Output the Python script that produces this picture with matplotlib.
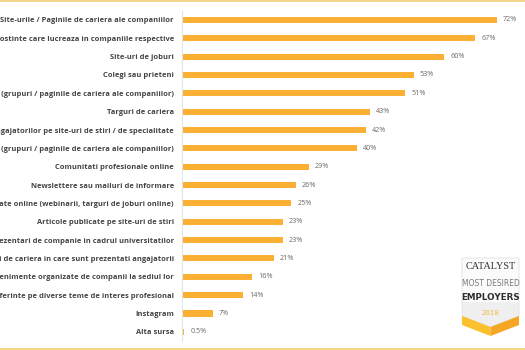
import matplotlib
matplotlib.use("Agg")
import matplotlib.pyplot as plt
from matplotlib.patches import Polygon, Rectangle

categories = [
    "Site-urile / Paginile de cariera ale companiilor",
    "Cunostinte care lucreaza in companiile respective",
    "Site-uri de joburi",
    "Colegi sau prieteni",
    "Facebook (grupuri / paginile de cariera ale companiilor)",
    "Targuri de cariera",
    "Reclamele angajatorilor pe site-uri de stiri / de specialitate",
    "LinkedIn (grupuri / paginile de cariera ale companiilor)",
    "Comunitati profesionale online",
    "Newslettere sau mailuri de informare",
    "Evenimente organizate online (webinarii, targuri de joburi online)",
    "Articole publicate pe site-uri de stiri",
    "Prezentari de companie in cadrul universitatilor",
    "Ghiduri de cariera in care sunt prezentati angajatorii",
    "Evenimente organizate de companii la sediul lor",
    "Conferinte pe diverse teme de interes profesional",
    "Instagram",
    "Alta sursa",
]
values = [72, 67, 60, 53, 51, 43, 42, 40, 29, 26, 25, 23, 23, 21, 16, 14, 7, 0.5]
value_labels = ["72%", "67%", "60%", "53%", "51%", "43%", "42%", "40%", "29%",
                "26%", "25%", "23%", "23%", "21%", "16%", "14%", "7%", "0.5%"]

W, H = 525, 350
fig = plt.figure(figsize=(W / 100, H / 100), dpi=100)
fig.patch.set_facecolor("white")

BAR = "#FBB034"
LABEL_FONT = ["Open Sans", "DejaVu Sans"]

ax_left = 182 / W
ax_width = (523 - 182) / W
ax_top = 1 - 10.8 / H
ax_bottom = 1 - 340.9 / H
ax = fig.add_axes([ax_left, ax_bottom, ax_width, ax_top - ax_bottom])
ypos = list(range(len(categories)))
ax.barh(ypos, values, height=0.34, color=BAR, left=0)
ax.set_xlim(0, 78)
ax.set_ylim(len(categories) - 0.5, -0.5)
ax.set_xticks([])
ax.set_yticks(ypos)
ax.set_yticklabels(categories, fontsize=5.4, color="#444444", fontweight="bold",
                   family=LABEL_FONT)
ax.tick_params(axis="y", length=0, pad=5.8)
for s in ["top", "right", "bottom"]:
    ax.spines[s].set_visible(False)
ax.spines["left"].set_color("#e4e4e4")
ax.spines["left"].set_linewidth(0.8)
for y, v, t in zip(ypos, values, value_labels):
    ax.annotate(t, (v, y), xytext=(4.5, 0), textcoords="offset points",
                va="center", ha="left", fontsize=5.2, color="#6a6a6a",
                family=LABEL_FONT)

# decoration overlay in pixel coordinates
ov = fig.add_axes([0, 0, 1, 1], zorder=5)
ov.set_xlim(0, W)
ov.set_ylim(H, 0)
ov.axis("off")
ov.patch.set_alpha(0)
ov.add_patch(Rectangle((0, 0), W, 1.8, color="#F3D587", lw=0))
ov.add_patch(Rectangle((0, 347.5), W, 2.5, color="#F3D587", lw=0))

# logo badge
cx = 490.5
lx, rx = 462, 519
ov.add_patch(Polygon([(lx, 258), (rx, 258), (rx, 316), (cx, 327), (lx, 316)],
                     closed=True, facecolor="#efefef", edgecolor="none"))
ov.add_patch(Polygon([(lx, 258), (rx, 258), (rx, 302), (lx, 302)], closed=True,
                     facecolor="#fbfbfb", lw=0))
ov.add_patch(Polygon([(lx, 258), (rx, 258), (rx, 316), (cx, 327), (lx, 316)],
                     closed=True, facecolor="none", edgecolor="#e2e2e2", lw=0.6))
ov.add_patch(Polygon([(lx, 316), (cx, 327), (cx, 336), (lx, 325)], closed=True,
                     facecolor="#FBC02D", lw=0))
ov.add_patch(Polygon([(rx, 316), (cx, 327), (cx, 336), (rx, 325)], closed=True,
                     facecolor="#F5A623", lw=0))
ov.text(cx, 266.5, "CATALYST", ha="center", va="center", fontsize=7.4,
        family=["Liberation Serif", "DejaVu Serif"], color="#333333")
ov.text(cx, 284, "MOST DESIRED", ha="center", va="center", fontsize=5.5,
        family=["DejaVu Sans Condensed", "DejaVu Sans"], color="#7a7a7a")
ov.text(cx, 298, "EMPLOYERS", ha="center", va="center", fontsize=6.3,
        fontweight="bold", family=["DejaVu Sans Condensed", "DejaVu Sans"],
        color="#2e2e2e")
ov.text(cx, 313, "2018", ha="center", va="center", fontsize=5.0,
        family=["DejaVu Sans Condensed", "DejaVu Sans"], color="#F5B942")

fig.savefig("out.png", dpi=100, facecolor="white")
